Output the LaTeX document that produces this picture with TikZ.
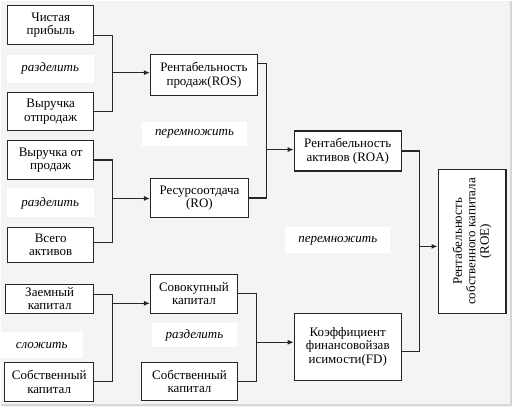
\documentclass[tikz,border=0pt]{standalone}
\usepackage{fontspec}
\setmainfont{Liberation Serif}
\usetikzlibrary{arrows.meta, positioning, calc}
\definecolor{sheetgray}{HTML}{F4F4F4}
\definecolor{edgegray}{HTML}{D6D6D6}

\begin{document}
\begin{tikzpicture}[x=1pt, y=-1pt,
  box/.style={draw=black!85, fill=white, rectangle, line width=1.2pt,
              align=center, font=\rmfamily\fontsize{13}{13.5}\selectfont, inner sep=1pt},
  op/.style={fill=white, rectangle, align=center,
             font=\rmfamily\fontsize{13}{13.5}\selectfont\itshape, inner sep=0pt},
  lnk/.style={line width=1.1pt, black!85},
  arr/.style={-{Latex[length=6pt,width=5pt]}, line width=1.1pt, black!85},
]
%% Sheet
\fill[sheetgray] (0,0) rectangle (512,407);
\draw[edgegray, line width=1.5pt] (511,0) -- (511,405) -- (0,405);

%% Left column (inputs)
\node[box, minimum width=86pt, minimum height=39pt] (prib) at (50,24.5) {Чистая\\прибыль};
\node[op, minimum width=87pt, minimum height=28pt] (div1) at (49.5,68) {разделить};
\node[box, minimum width=86pt, minimum height=38pt] (vyr1) at (50,111) {Выручка\\отпродаж};
\node[box, minimum width=86pt, minimum height=39pt] (vyr2) at (50,159.5) {Выручка от\\продаж};
\node[op, minimum width=87pt, minimum height=29pt] (div2) at (49.5,202.5) {разделить};
\node[box, minimum width=86pt, minimum height=35pt] (aktiv) at (50,244.5) {Всего\\активов};
\node[box, minimum width=88pt, minimum height=29pt] (zaem) at (49,298.5) {Заемный\\капитал};
\node[op, minimum width=82pt, minimum height=26pt] (add1) at (41,345) {сложить};
\node[box, minimum width=89pt, minimum height=39pt] (sobs1) at (48.5,381.5) {Собственный\\капитал};

%% Middle column
\node[box, minimum width=107pt, minimum height=41pt] (ros) at (203.5,74.5) {Рентабельность\\продаж(ROS)};
\node[op, minimum width=106pt, minimum height=24pt] (mul1) at (194,133) {перемножить};
\node[box, minimum width=98pt, minimum height=39pt] (ro) at (199,197.5) {Ресурсоотдача\\(RO)};
\node[box, minimum width=87pt, minimum height=39pt] (sovk) at (193.5,293.5) {Совокупный\\капитал};
\node[op, minimum width=86pt, minimum height=24pt] (div3) at (194,335) {разделить};
\node[box, minimum width=96pt, minimum height=38pt] (sobs2) at (189,381) {Собственный\\капитал};

%% Right columns
\node[box, minimum width=107pt, minimum height=40pt] (roa) at (347.5,150.5) {Рентабельность\\активов (ROA)};
\node[op, minimum width=105pt, minimum height=26pt] (mul2) at (337.5,240) {перемножить};
\node[box, minimum width=107pt, minimum height=67pt] (fd) at (347.5,346.5) {Коэффициент\\финансовойзав\\исимости(FD)};
\node[box, rotate=90, minimum width=144pt, minimum height=68pt] (roe) at (472,241)
  {Рентабельность\\собственного капитала\\(ROE)};

%% Junctions
\coordinate (jros) at (112,72);
\coordinate (jro) at (112,198);
\coordinate (jsovk) at (112,303);
\coordinate (jroa) at (266,149);
\coordinate (jfd) at (256,342);
\coordinate (jroe) at (419,246);

%% Connectors
\draw[lnk] ([yshift=-10.5pt]prib.east) -| (jros) |- (vyr1.east);
\draw[arr] (jros) -- (jros -| ros.west);
\draw[lnk] (vyr2.east) -| (jro) |- ([yshift=2.5pt]aktiv.east);
\draw[arr] (jro) -- (jro -| ro.west);
\draw[lnk] ([yshift=4.5pt]zaem.east) -| (jsovk) |- (sobs1.east);
\draw[arr] (jsovk) -- (jsovk -| sovk.west);
\draw[lnk] ([yshift=11.5pt]ros.east) -| (jroa) |- (ro.east);
\draw[arr] (jroa) -- (jroa -| roa.west);
\draw[lnk] (sovk.east) -| (jfd) |- (sobs2.east);
\draw[arr] (jfd) -- (jfd -| fd.west);
\draw[lnk] (roa.east) -| (jroe) |- ([yshift=-4.5pt]fd.east);
\draw[arr] (jroe) -- (jroe -| roe.north);
\end{tikzpicture}
\end{document}
